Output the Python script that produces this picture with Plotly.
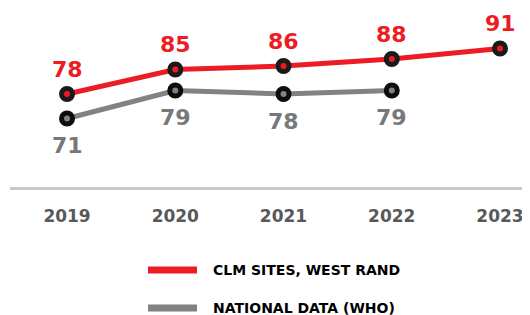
import plotly.graph_objects as go

years = [2019, 2020, 2021, 2022, 2023]
clm_values = [78, 85, 86, 88, 91]
who_years = [2019, 2020, 2021, 2022]
who_values = [71, 79, 78, 79]
series_names = ["CLM SITES, WEST RAND", "NATIONAL DATA (WHO)"]

RED = "#ed1c24"
GRAY = "#808285"
FONT = "DejaVu Sans"

fig = go.Figure()
fig.add_trace(go.Scatter(
    x=who_years, y=who_values, mode="lines+markers",
    line=dict(color=GRAY, width=5),
    marker=dict(color=GRAY, size=11, line=dict(color="#0d0d0d", width=5)),
    showlegend=False, hoverinfo="skip"))
fig.add_trace(go.Scatter(
    x=years, y=clm_values, mode="lines+markers",
    line=dict(color=RED, width=5),
    marker=dict(color=RED, size=11, line=dict(color="#1a1a1a", width=5)),
    showlegend=False, hoverinfo="skip"))

annotations = []
for x, v in zip(years, clm_values):
    annotations.append(dict(x=x, y=v, text=str(v), showarrow=False, yshift=25,
                            font=dict(family=FONT, size=22, color=RED, weight="bold")))
for x, v in zip(who_years, who_values):
    annotations.append(dict(x=x, y=v, text=str(v), showarrow=False, yshift=-27,
                            font=dict(family=FONT, size=22, color="#77787b", weight="bold")))

# manual legend (page-pixel positions converted to paper coords)
plot_top, plot_bot, plot_left, plot_w = 10, 187, 10, 520
def py(px):
    return (plot_bot - px) / (plot_bot - plot_top)
def pxx(px):
    return (px - plot_left) / plot_w

shapes = []
for name, color, ypix in [(series_names[0], RED, 270), (series_names[1], GRAY, 308)]:
    shapes.append(dict(type="line", xref="paper", yref="paper",
                       x0=pxx(148), x1=pxx(197), y0=py(ypix), y1=py(ypix),
                       line=dict(color=color, width=7)))
    annotations.append(dict(xref="paper", yref="paper", x=pxx(211), y=py(ypix),
                            xanchor="left", yanchor="middle", showarrow=False, text=name,
                            font=dict(family=FONT, size=14, color="#000000", weight="bold")))

fig.update_layout(
    width=530, height=315,
    margin=dict(l=2, r=8, t=2, b=136),
    paper_bgcolor="white", plot_bgcolor="white",
    showlegend=False,
    xaxis=dict(range=[2018.473, 2023.277], tickmode="array", tickvals=years,
               ticktext=[str(y) for y in years], showgrid=False, zeroline=False,
               showline=True, linecolor="#c8c8c8", linewidth=3,
               ticks="outside", ticklen=12, tickcolor="rgba(0,0,0,0)",
               tickfont=dict(family=FONT, size=17, color="#58595b", weight="bold")),
    yaxis=dict(range=[51.43, 102], visible=False),
    annotations=annotations, shapes=shapes,
)

fig.write_html("out.html")
